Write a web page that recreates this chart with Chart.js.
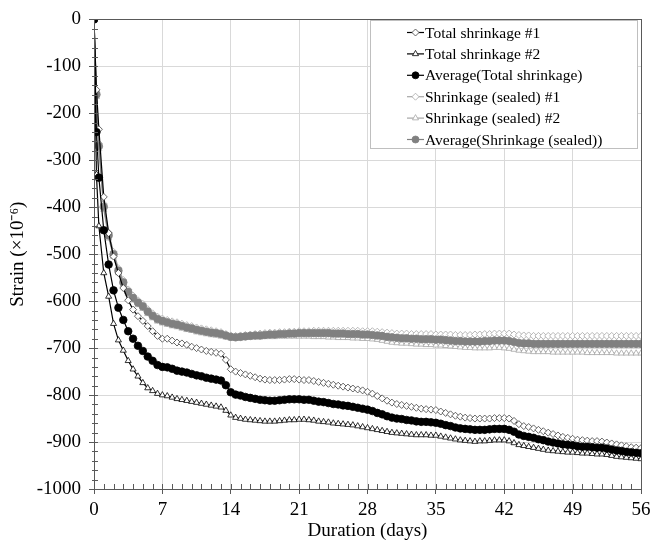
<!DOCTYPE html>
<html>
<head>
<meta charset="utf-8">
<script src="https://cdn.jsdelivr.net/npm/chart.js@4"></script>
<style>
  body { margin: 0; background: #fff; }
  #wrap { width: 663px; height: 543px; }
</style>
</head>
<body>
<div id="wrap"><canvas id="chart1" width="663" height="543"></canvas></div>
<script>
// Time (days)
const days = [0, 0.25, 0.5,
  1, 1.5, 2, 2.5, 3, 3.5, 4, 4.5, 5, 5.5, 6, 6.5,
  7, 7.5, 8, 8.5, 9, 9.5, 10, 10.5, 11, 11.5, 12, 12.5, 13, 13.5,
  14, 14.5, 15, 15.5, 16, 16.5, 17, 17.5, 18, 18.5, 19, 19.5, 20, 20.5,
  21, 21.5, 22, 22.5, 23, 23.5, 24, 24.5, 25, 25.5, 26, 26.5, 27, 27.5,
  28, 28.5, 29, 29.5, 30, 30.5, 31, 31.5, 32, 32.5, 33, 33.5, 34, 34.5,
  35, 35.5, 36, 36.5, 37, 37.5, 38, 38.5, 39, 39.5, 40, 40.5, 41, 41.5,
  42, 42.5, 43, 43.5, 44, 44.5, 45, 45.5, 46, 46.5, 47, 47.5, 48, 48.5,
  49, 49.5, 50, 50.5, 51, 51.5, 52, 52.5, 53, 53.5, 54, 54.5, 55, 55.5,
  56];

// Strain (x10^-6)
const total1 = [0, -150, -234,
  -378, -455, -505, -540, -572, -598, -618, -632, -642, -653, -664, -674,
  -680, -680, -684, -688, -690, -693, -697, -700, -703, -706, -708, -710, -712, -725,
  -745, -750, -753, -756, -759, -762, -765, -767, -768, -768, -768, -767, -766, -766,
  -767, -768, -768, -770, -772, -774, -776, -778, -780, -782, -784, -786, -788, -790,
  -793, -797, -802, -807, -812, -816, -819, -821, -823, -825, -827, -829, -830, -831,
  -832, -835, -838, -841, -844, -846, -848, -849, -850, -850, -850, -850, -849, -849,
  -849, -850, -855, -862, -866, -868, -871, -874, -877, -880, -883, -886, -889, -891,
  -893, -895, -896, -897, -898, -898, -899, -901, -903, -905, -907, -909, -911, -912,
  -913];

const total2 = [0, -330, -440,
  -540, -590, -648, -683, -705, -727, -745, -760, -774, -785, -791, -797,
  -800, -802, -805, -808, -810, -812, -814, -816, -818, -820, -822, -824, -826, -833,
  -843, -848, -850, -852, -853, -854, -855, -856, -856, -856, -855, -854, -853, -853,
  -852, -852, -853, -854, -856, -857, -858, -860, -861, -862, -863, -864, -866, -868,
  -870, -872, -874, -876, -878, -880, -881, -882, -883, -884, -885, -885, -885, -886,
  -886, -888, -890, -892, -894, -896, -897, -898, -899, -898, -898, -897, -896, -896,
  -896, -898, -902, -906, -908, -910, -912, -914, -916, -918, -919, -920, -921, -922,
  -922, -923, -924, -924, -925, -926, -926, -927, -929, -931, -932, -933, -934, -935,
  -936];

const totalAvg = [0, -240, -337,
  -449, -522, -577, -614, -640, -664, -680, -695, -706, -718, -727, -736,
  -740, -741, -744, -748, -750, -752, -755, -758, -760, -763, -765, -767, -769, -779,
  -794, -799, -801, -804, -806, -808, -810, -811, -812, -812, -811, -810, -809, -809,
  -809, -810, -810, -812, -814, -815, -817, -819, -820, -822, -823, -825, -827, -829,
  -831, -834, -838, -841, -845, -848, -850, -851, -853, -854, -856, -857, -857, -858,
  -859, -861, -864, -866, -869, -871, -872, -873, -874, -874, -874, -873, -872, -872,
  -872, -874, -878, -884, -887, -889, -891, -894, -896, -899, -901, -903, -905, -906,
  -907, -909, -910, -910, -911, -912, -912, -914, -916, -918, -919, -921, -922, -923,
  -924];

const sealed1 = [0, -155, -264,
  -393, -454, -495, -530, -555, -575, -588, -598, -606, -617, -626, -633,
  -637, -640, -643, -645, -648, -651, -653, -656, -658, -660, -662, -664, -666, -670,
  -673, -674, -673, -672, -671, -670, -669, -668, -667, -667, -666, -666, -665, -665,
  -664, -664, -664, -663, -663, -663, -663, -663, -663, -663, -663, -663, -663, -664,
  -664, -664, -665, -666, -667, -668, -669, -669, -669, -670, -670, -670, -670, -670,
  -671, -671, -671, -671, -672, -672, -672, -672, -671, -671, -670, -670, -669, -669,
  -669, -669, -671, -672, -673, -673, -674, -674, -674, -674, -674, -674, -674, -674,
  -674, -674, -674, -674, -674, -674, -674, -674, -674, -674, -674, -674, -674, -674,
  -674];

const sealed2 = [0, -165, -276,
  -405, -466, -505, -540, -565, -585, -598, -608, -616, -627, -636, -643,
  -647, -650, -653, -655, -658, -661, -663, -666, -668, -670, -672, -673, -675, -677,
  -679, -680, -679, -678, -677, -677, -677, -676, -676, -676, -675, -675, -675, -675,
  -675, -675, -675, -676, -676, -676, -677, -677, -678, -678, -678, -679, -679, -680,
  -680, -681, -682, -684, -686, -688, -689, -690, -690, -691, -692, -692, -693, -693,
  -694, -694, -695, -696, -697, -698, -699, -699, -700, -700, -700, -700, -699, -699,
  -700, -701, -703, -705, -706, -707, -708, -708, -708, -708, -709, -709, -709, -709,
  -709, -709, -709, -710, -710, -710, -710, -710, -710, -711, -711, -711, -711, -711,
  -711];

const sealedAvg = [0, -160, -270,
  -399, -460, -500, -535, -560, -580, -593, -603, -611, -622, -631, -638,
  -642, -645, -648, -650, -653, -656, -658, -661, -663, -665, -667, -668, -670, -673,
  -676, -677, -676, -675, -674, -673, -673, -672, -671, -671, -670, -670, -669, -669,
  -668, -668, -668, -668, -668, -668, -668, -669, -669, -669, -670, -670, -670, -671,
  -671, -672, -673, -674, -676, -677, -678, -679, -679, -680, -680, -681, -681, -681,
  -682, -682, -683, -684, -685, -685, -686, -686, -686, -686, -685, -685, -684, -684,
  -684, -685, -687, -689, -690, -690, -691, -691, -691, -691, -691, -691, -691, -691,
  -691, -691, -691, -691, -691, -691, -691, -691, -691, -691, -691, -691, -691, -691,
  -691];

const labels = ['Total shrinkage #1', 'Total shrinkage #2', 'Average(Total shrinkage)',
  'Shrinkage (sealed) #1', 'Shrinkage (sealed) #2', 'Average(Shrinkage (sealed))'];

const FONT = "'Liberation Serif', 'Times New Roman', serif";

function pts(arr) {
  return days.map((d, i) => ({ x: d, y: arr[i] }));
}

function series(label, arr, line, style, fill, edge, order, r) {
  return {
    label: label,
    data: pts(arr),
    borderColor: line,
    borderWidth: 1.2,
    pointStyle: style,
    pointRadius: r,
    pointBackgroundColor: fill,
    pointBorderColor: edge,
    pointBorderWidth: 0.8,
    tension: 0,
    order: order
  };
}

// frame + minor ticks
const framePlugin = {
  id: 'frame',
  afterDraw(chart) {
    const c = chart.ctx, a = chart.chartArea;
    const xs = chart.scales.x, ys = chart.scales.y;
    c.save();
    c.strokeStyle = '#595959';
    c.lineWidth = 1;
    c.beginPath();
    for (let d = 1; d < 56; d++) {
      const px = Math.round(xs.getPixelForValue(d)) + 0.5;
      c.moveTo(px, a.bottom);
      c.lineTo(px, a.bottom - 5);
    }
    for (let v = -980; v < 0; v += 20) {
      const py = Math.round(ys.getPixelForValue(v)) + 0.5;
      c.moveTo(a.left - 2, py);
      c.lineTo(a.left + 4, py);
    }
    c.stroke();
    c.strokeRect(Math.round(a.left) + 0.5, Math.round(a.top) + 0.5,
      Math.round(a.right - a.left), Math.round(a.bottom - a.top));
    c.restore();
  }
};

// legend box inside plot
const legendPlugin = {
  id: 'boxLegend',
  afterDraw(chart) {
    const c = chart.ctx;
    const bx = 370.5, by = 20.5, bw = 267, bh = 128;
    c.save();
    c.fillStyle = '#fff';
    c.fillRect(bx, by, bw, bh);
    c.strokeStyle = '#bfbfbf';
    c.lineWidth = 1;
    c.strokeRect(bx, by, bw, bh);
    c.font = '15.5px ' + FONT;
    c.textBaseline = 'middle';
    chart.data.datasets.forEach((ds, i) => {
      const y = 32.5 + i * 21.4;
      c.strokeStyle = ds.borderColor;
      c.lineWidth = 1.2;
      c.beginPath();
      c.moveTo(407, y);
      c.lineTo(424, y);
      c.stroke();
      c.fillStyle = ds.pointBackgroundColor;
      c.strokeStyle = ds.pointBorderColor;
      c.lineWidth = 0.8;
      Chart.helpers.drawPoint(c, { pointStyle: ds.pointStyle, radius: 3.5, rotation: 0, borderWidth: 0.8 }, 415.5, y);
      c.fillStyle = '#000';
      c.fillText(ds.label, 425, y + 1);
    });
    c.restore();
  }
};

const ctx = document.getElementById('chart1');
const chart1 = new Chart(ctx, {
  type: 'line',
  data: {
    datasets: [
      series(labels[0], total1, '#000', 'rectRot', '#fff', '#404040', 2, 3.5),
      series(labels[1], total2, '#000', 'triangle', '#fff', '#000', 2, 3.5),
      series(labels[2], totalAvg, '#000', 'circle', '#000', '#000', 1, 3.8),
      series(labels[3], sealed1, '#a6a6a6', 'rectRot', '#fff', '#a6a6a6', 4, 3.5),
      series(labels[4], sealed2, '#a6a6a6', 'triangle', '#fff', '#a6a6a6', 4, 3.5),
      series(labels[5], sealedAvg, '#808080', 'circle', '#808080', '#808080', 3, 3.8)
    ]
  },
  options: {
    responsive: false,
    animation: false,
    layout: { padding: { left: 0, top: 15, right: 22, bottom: 0 } },
    plugins: {
      legend: { display: false },
      tooltip: { enabled: false }
    },
    scales: {
      x: {
        type: 'linear',
        min: 0,
        max: 56,
        afterFit: s => { s.height = 54; },
        ticks: { stepSize: 7, color: '#000', font: { family: FONT, size: 19 }, padding: 5, maxRotation: 0 },
        grid: { color: '#d9d9d9', tickColor: '#595959', tickLength: 5 },
        border: { color: '#595959' },
        title: { display: true, text: 'Duration (days)', color: '#000', font: { family: FONT, size: 19 }, padding: { top: 0, bottom: 1 } }
      },
      y: {
        min: -1000,
        max: 0,
        afterFit: s => { s.width = 94; },
        ticks: { stepSize: 100, color: '#000', font: { family: FONT, size: 19 }, padding: 8, callback: v => String(v) },
        grid: { color: '#d9d9d9', tickColor: '#595959', tickLength: 5 },
        border: { color: '#595959' },
        title: { display: true, text: 'Strain (×10⁻⁶)', color: '#000', font: { family: FONT, size: 19 }, padding: { top: 7, bottom: 0 } }
      }
    }
  },
  plugins: [framePlugin, legendPlugin]
});
</script>
</body>
</html>
